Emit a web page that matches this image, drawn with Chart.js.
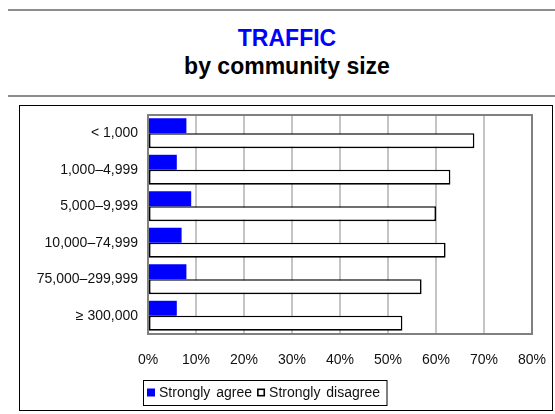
<!DOCTYPE html>
<html><head><meta charset="utf-8">
<script src="https://cdn.jsdelivr.net/npm/chart.js@4/dist/chart.umd.min.js"></script>
<style>
html,body{margin:0;padding:0;background:#fff;}
body{width:555px;height:414px;position:relative;overflow:hidden;font-family:"Liberation Sans",Arial,sans-serif;}
.rule{position:absolute;left:8px;right:0;height:2px;background:#8c8c8c;}
.t{position:absolute;left:19px;width:536px;text-align:center;font-weight:bold;font-size:23px;line-height:23px;white-space:nowrap;}
#box{position:absolute;left:19px;top:105px;width:534px;height:306px;box-sizing:border-box;border:1px solid #000;}
#box canvas{display:block;}
</style></head>
<body>
<div class="rule" style="top:9px"></div>
<div class="t" style="top:27px;color:#0000ff">TRAFFIC</div>
<div class="t" style="top:55px;color:#000">by community size</div>
<div class="rule" style="top:95px"></div>
<div id="box"><canvas id="c" width="532" height="304"></canvas></div>
<script>
// Community size groups and the share of respondents at each extreme (%)
const categories = ['< 1,000', '1,000–4,999', '5,000–9,999', '10,000–74,999', '75,000–299,999', '≥ 300,000'];
const stronglyAgree = [8, 6, 9, 7, 8, 6];
const stronglyDisagree = [68, 63, 60, 62, 57, 53];
const xTickValues = [0, 10, 20, 30, 40, 50, 60, 70, 80];

const FONT = '"Liberation Sans", Arial, sans-serif';

// Gray frame around the plotting area, drawn under the bars
const plotFrame = {
  id: 'plotFrame',
  beforeDatasetsDraw(chart) {
    const { ctx, chartArea: a } = chart;
    ctx.save();
    ctx.strokeStyle = '#808080';
    ctx.lineWidth = 2;
    ctx.strokeRect(a.left, a.top, a.right - a.left, a.bottom - a.top);
    ctx.restore();
  }
};

// Boxed legend below the axis
const boxLegend = {
  id: 'boxLegend',
  afterDraw(chart) {
    const { ctx, chartArea: a } = chart;
    const ds = chart.data.datasets;
    const x0 = a.left - 4.5, y0 = a.bottom + 46.5;
    ctx.save();
    ctx.font = '14px ' + FONT;
    ctx.textBaseline = 'alphabetic';
    try { ctx.wordSpacing = '2px'; } catch (e) {}
    let x = x0 + 3.5;
    const items = [];
    ds.forEach((d) => {
      const w = ctx.measureText(d.label).width;
      items.push({ d, x, w });
      x += 12 + w + 5;
    });
    const width = x - x0 + 2;
    ctx.strokeStyle = '#000';
    ctx.lineWidth = 1;
    ctx.strokeRect(x0, y0, width, 25);
    items.forEach(({ d, x }) => {
      const sy = y0 + 8;
      ctx.fillStyle = d.backgroundColor;
      ctx.fillRect(x, sy, 8, 8);
      if (d.borderWidth) {
        ctx.strokeStyle = d.borderColor;
        ctx.lineWidth = 1.6;
        ctx.strokeRect(x + 0.8, sy + 0.8, 6.4, 6.4);
      }
      ctx.fillStyle = '#111';
      ctx.fillText(d.label, x + 12, y0 + 16);
    });
    ctx.restore();
  }
};

new Chart(document.getElementById('c'), {
  type: 'bar',
  data: {
    labels: categories,
    datasets: [
      {
        label: 'Strongly agree',
        data: stronglyAgree,
        backgroundColor: '#0000ff',
        borderWidth: 0,
        categoryPercentage: 0.82,
        barPercentage: 1
      },
      {
        label: 'Strongly disagree',
        data: stronglyDisagree,
        backgroundColor: '#ffffff',
        borderColor: '#000000',
        borderWidth: 1.6,
        borderSkipped: false,
        categoryPercentage: 0.82,
        barPercentage: 1
      }
    ]
  },
  options: {
    indexAxis: 'y',
    responsive: false,
    animation: false,
    devicePixelRatio: 1,
    layout: { padding: { top: 9, right: 20, left: 0, bottom: 0 } },
    plugins: { legend: { display: false }, tooltip: { enabled: false } },
    scales: {
      x: {
        min: 0,
        max: 80,
        afterBuildTicks(scale) { scale.ticks = xTickValues.map(v => ({ value: v })); },
        afterFit(scale) {
          scale.height = 76;
          scale.paddingLeft = 0;
          scale.paddingRight = 0;
        },
        ticks: {
          callback: v => v + '%',
          padding: 18,
          color: '#111',
          font: { size: 14, family: FONT }
        },
        grid: { color: '#c4c4c4', lineWidth: 2, drawTicks: false },
        border: { display: false }
      },
      y: {
        afterFit(scale) {
          scale.width = 128;
          scale.paddingTop = 0;
          scale.paddingBottom = 0;
        },
        ticks: {
          padding: 10,
          color: '#111',
          font: { size: 14, family: FONT }
        },
        grid: { display: false, drawTicks: false },
        border: { display: false }
      }
    }
  },
  plugins: [plotFrame, boxLegend]
});
</script>
</body></html>
